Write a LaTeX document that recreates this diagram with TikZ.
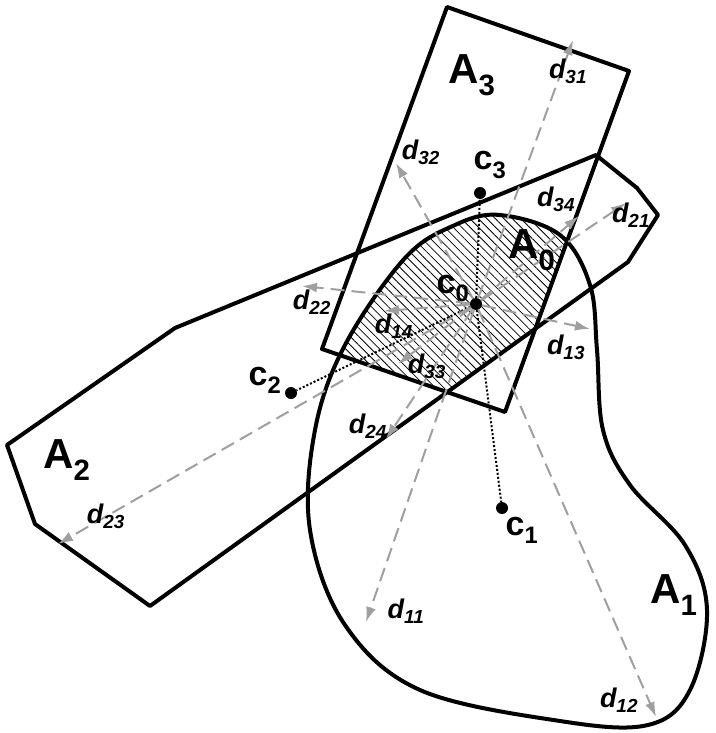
\documentclass[tikz,border=0pt]{standalone}
\usepackage{fontspec}
\setmainfont{Liberation Sans}
\usetikzlibrary{arrows.meta, patterns.meta}

\begin{document}
\begin{tikzpicture}[x=1pt, y=-1pt]
    \tikzstyle{region} = [line width=4pt, line join=round]
    \tikzstyle{dist} = [gray!75, dash pattern=on 14pt off 7pt, line width=2pt, -{Latex[length=15pt, width=10pt]}]
    \tikzstyle{link} = [dash pattern=on 2pt off 2pt, line width=2pt]
    \tikzstyle{pt} = [circle, fill=black, inner sep=0pt, minimum size=12pt]
    \tikzstyle{setlabel} = [font=\fontsize{42}{44}\selectfont\bfseries]
    \tikzstyle{clabel} = [font=\fontsize{34}{36}\selectfont\bfseries]
    \tikzstyle{dlabel} = [font=\fontsize{27}{29}\selectfont\bfseries\itshape]
    \useasboundingbox (0,0) rectangle (715,733);

    % the three sets
    \def\pathA{plot[smooth cycle, tension=0.6] coordinates {(500,215) (560,235) (590,285) (597,350) (603,430) (630,485) (685,545) (707,610) (690,690) (648,725) (560,721) (420,690) (345,625) (310,530) (315,430) (345,345) (405,258) (455,225)}}
    \def\pathB{(596,155) -- (637,188) -- (658,215) -- (628,262) -- (150,606) -- (35,524) -- (7,445) -- (175,328) -- cycle}
    \def\pathC{(447,7) -- (629,71) -- (505,412) -- (322,349) -- cycle}

    % hatched intersection
    \begin{scope}
        \clip \pathA;
        \clip \pathB;
        \clip \pathC;
        \fill[pattern={Lines[angle=-45, distance=6pt, line width=0.8pt]}] (0,0) rectangle (715,733);
    \end{scope}

    \draw[region] \pathA;
    \draw[region] \pathB;
    \draw[region] \pathC;

    % centres
    \node (c0) [pt] at (476,304) {};
    \node (c1) [pt] at (502,508) {};
    \node (c2) [pt] at (291,393) {};
    \node (c3) [pt] at (480,193) {};

    \draw[link] (c0) -- (c1);
    \draw[link] (c0) -- (c2);
    \draw[link] (c0) -- (c3);

    % distance arrows
    \coordinate (e31) at (573,40);
    \coordinate (e32) at (396,163);
    \coordinate (e34) at (579,216);
    \coordinate (e21) at (626,203);
    \coordinate (e22) at (302,286);
    \coordinate (e14) at (384,311);
    \coordinate (e13) at (590,329);
    \coordinate (e33) at (398,364);
    \coordinate (e24) at (386,439);
    \coordinate (e23) at (58,544);
    \coordinate (e11) at (366,622);
    \coordinate (e12) at (656,717);
    \foreach \e in {31,32,34,21,22,14,13,33,24,23,11,12}
        \draw[dist] (c0) -- (e\e);

    % labels
    \node[setlabel] at (472,75) {A\textsubscript{3}};
    \node[setlabel] at (532,250) {A\textsubscript{0}};
    \node[setlabel] at (67,460) {A\textsubscript{2}};
    \node[setlabel] at (674,595) {A\textsubscript{1}};

    \node[clabel] at (453,288) {c\textsubscript{0}};
    \node[clabel] at (522,530) {c\textsubscript{1}};
    \node[clabel] at (265,380) {c\textsubscript{2}};
    \node[clabel] at (490,165) {c\textsubscript{3}};

    \node[dlabel] at (568,71) {d\textsubscript{31}};
    \node[dlabel] at (421,152) {d\textsubscript{32}};
    \node[dlabel] at (556,199) {d\textsubscript{34}};
    \node[dlabel] at (631,215) {d\textsubscript{21}};
    \node[dlabel] at (312,302) {d\textsubscript{22}};
    \node[dlabel] at (394,326) {d\textsubscript{14}};
    \node[dlabel] at (566,347) {d\textsubscript{13}};
    \node[dlabel] at (427,366) {d\textsubscript{33}};
    \node[dlabel] at (368,426) {d\textsubscript{24}};
    \node[dlabel] at (106,516) {d\textsubscript{23}};
    \node[dlabel] at (406,611) {d\textsubscript{11}};
    \node[dlabel] at (619,700) {d\textsubscript{12}};
\end{tikzpicture}
\end{document}
